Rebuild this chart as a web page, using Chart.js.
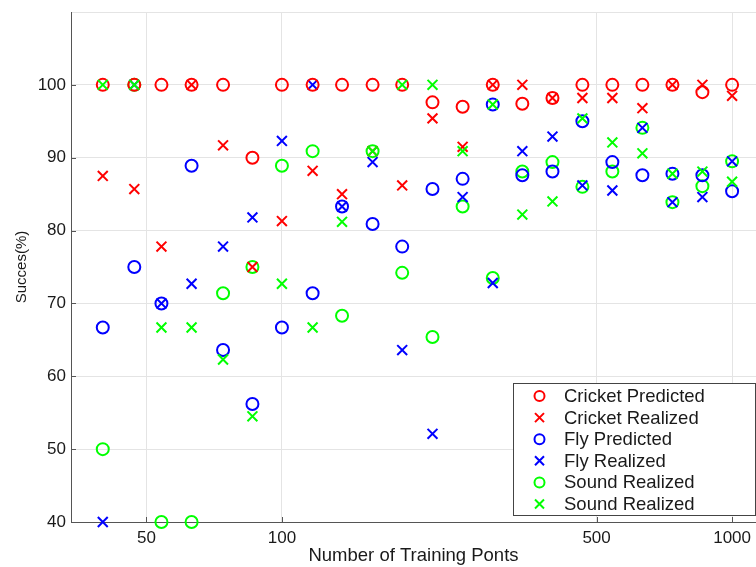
<!DOCTYPE html>
<html>
<head>
<meta charset="utf-8">
<script src="https://cdn.jsdelivr.net/npm/chart.js@4/dist/chart.umd.min.js"></script>
<style>
  html, body { margin: 0; padding: 0; background: #fff; }
  canvas { display: block; }
</style>
</head>
<body>
<canvas id="chart" width="756" height="567"></canvas>
<script>
// training set sizes (log spaced)
const trainingPoints = [40, 47, 54, 63, 74, 86, 100, 117, 136, 159, 185, 216, 252, 294, 342, 399, 465, 542, 632, 737, 859, 1000];

const cricketPredicted = [100, 100, 100, 100, 100, 90, 100, 100, 100, 100, 100, 97.6, 97.0, 100, 97.4, 98.2, 100, 100, 100, 100, 99.0, 100];
const cricketRealized  = [87.5, 85.7, 77.8, 100, 91.7, 75.0, 81.3, 88.2, 85.0, 90.9, 86.2, 95.4, 91.5, 100, 100, 98.2, 98.2, 98.2, 96.8, 100, 100, 98.5];
const flyPredicted     = [66.7, 75.0, 70.0, 88.9, 63.6, 56.2, 66.7, 71.4, 83.3, 80.9, 77.8, 85.7, 87.1, 97.3, 87.6, 88.1, 95.0, 89.4, 87.6, 87.8, 87.6, 85.4];
const flyRealized      = [40, 100, 70.0, 72.7, 77.8, 81.8, 92.3, 100, 83.3, 89.4, 63.6, 52.1, 84.6, 72.8, 90.9, 92.9, 86.2, 85.5, 94.1, 83.9, 84.6, 89.5];
const soundPredicted   = [50, 100, 40, 40, 71.4, 75.0, 88.9, 90.9, 68.3, 90.9, 74.2, 65.4, 83.3, 73.5, 88.1, 89.4, 86.0, 88.1, 94.1, 83.9, 86.1, 89.5];
const soundRealized    = [100, 100, 66.7, 66.7, 62.3, 54.5, 72.7, 66.7, 81.2, 90.9, 100, 100, 90.9, 97.3, 82.2, 84.0, 95.4, 92.1, 90.6, 87.8, 88.1, 86.7];

const xTicks = [50, 100, 500, 1000];
const yMin = 40, yMax = 110, yStep = 10;

const FONT = '"Liberation Sans", Arial, sans-serif';
const RED = '#ff0000', BLUE = '#0000ff', GREEN = '#00ff00';

function pts(values) {
    return trainingPoints.map((x, i) => ({ x: x, y: values[i] })).filter(p => p.y !== null);
}

function series(label, values, color, style, order) {
    const isCircle = style === 'circle';
    return {
        label: label,
        data: pts(values),
        pointStyle: style,
        pointRadius: isCircle ? 6 : 7,
        pointHoverRadius: isCircle ? 6 : 7,
        pointBorderWidth: 2,
        borderColor: color,
        backgroundColor: 'rgba(0,0,0,0)',
        pointBackgroundColor: 'rgba(0,0,0,0)',
        showLine: false,
        clip: false,
        order: order
    };
}

// inward tick marks, matlab style
const innerTicks = {
    id: 'innerTicks',
    beforeDatasetsDraw(chart) {
        const { ctx, chartArea, scales } = chart;
        ctx.save();
        ctx.strokeStyle = '#555';
        ctx.lineWidth = 1;
        ctx.beginPath();
        for (let v = yMin; v < yMax; v += yStep) {
            const y = Math.round(scales.y.getPixelForValue(v)) + 0.5;
            ctx.moveTo(chartArea.left, y);
            ctx.lineTo(chartArea.left + 5, y);
        }
        xTicks.forEach(v => {
            const x = Math.round(scales.x.getPixelForValue(v)) + 0.5;
            ctx.moveTo(x, chartArea.bottom);
            ctx.lineTo(x, chartArea.bottom - 5);
        });
        ctx.stroke();
        ctx.restore();
    }
};

// legend box inside the plot, bottom right
const boxLegend = {
    id: 'boxLegend',
    afterDraw(chart) {
        const ctx = chart.ctx;
        const left = 513.5, top = 383.5, right = 755.5, bottom = 515.5;
        ctx.save();
        ctx.fillStyle = '#fff';
        ctx.fillRect(left, top, right - left, bottom - top);
        ctx.strokeStyle = '#444';
        ctx.lineWidth = 1;
        ctx.strokeRect(left, top, right - left, bottom - top);

        ctx.font = '18.5px ' + FONT;
        ctx.textBaseline = 'middle';
        ctx.textAlign = 'left';
        chart.data.datasets.forEach((ds, i) => {
            const y = 396 + i * 21.6;
            const mx = 539.5;
            ctx.strokeStyle = ds.borderColor;
            ctx.lineWidth = 2;
            ctx.beginPath();
            if (ds.pointStyle === 'circle') {
                ctx.arc(mx, y, 5, 0, Math.PI * 2);
            } else {
                ctx.moveTo(mx - 4.5, y - 4.5);
                ctx.lineTo(mx + 4.5, y + 4.5);
                ctx.moveTo(mx + 4.5, y - 4.5);
                ctx.lineTo(mx - 4.5, y + 4.5);
            }
            ctx.stroke();
            ctx.fillStyle = '#1a1a1a';
            ctx.fillText(ds.label, 564, y + 1);
        });
        ctx.restore();
    }
};

new Chart(document.getElementById('chart').getContext('2d'), {
    type: 'scatter',
    data: {
        datasets: [
            series('Cricket Predicted', cricketPredicted, RED, 'circle', 1),
            series('Cricket Realized', cricketRealized, RED, 'crossRot', 2),
            series('Fly Predicted', flyPredicted, BLUE, 'circle', 3),
            series('Fly Realized', flyRealized, BLUE, 'crossRot', 4),
            series('Sound Realized', soundPredicted, GREEN, 'circle', 5),
            series('Sound Realized', soundRealized, GREEN, 'crossRot', 0)
        ]
    },
    options: {
        responsive: false,
        animation: false,
        layout: { autoPadding: false, padding: { top: 12, right: 0, left: 0, bottom: 0 } },
        plugins: {
            legend: { display: false },
            tooltip: { enabled: false }
        },
        scales: {
            x: {
                type: 'logarithmic',
                position: 'bottom',
                min: 34,
                max: 1130,
                afterBuildTicks: (scale) => {
                    scale.ticks = xTicks.map(v => ({ value: v }));
                },
                afterFit: (scale) => {
                    scale.height = 45;
                    scale.paddingLeft = 0;
                    scale.paddingRight = 0;
                },
                grid: { color: '#e4e4e4', drawTicks: false },
                border: { display: true, color: '#555' },
                ticks: {
                    autoSkip: false,
                    maxRotation: 0,
                    padding: 6,
                    color: '#1a1a1a',
                    font: { family: FONT, size: 17 },
                    callback: (v) => String(v)
                },
                title: {
                    display: true,
                    text: 'Number of Training Ponts',
                    color: '#1a1a1a',
                    font: { family: FONT, size: 18.5 },
                    padding: { top: 0, bottom: 0 }
                }
            },
            y: {
                min: yMin,
                max: yMax,
                afterFit: (scale) => {
                    scale.width = 71;
                    scale.paddingTop = 0;
                    scale.paddingBottom = 0;
                },
                grid: { color: '#e4e4e4', drawTicks: false },
                border: { display: true, color: '#555' },
                ticks: {
                    stepSize: yStep,
                    padding: 5,
                    color: '#1a1a1a',
                    font: { family: FONT, size: 17 },
                    callback: (v) => (v === yMax ? '' : v)
                },
                title: {
                    display: true,
                    text: 'Succes(%)',
                    color: '#1a1a1a',
                    font: { family: FONT, size: 15 },
                    padding: { top: 13, bottom: 0 }
                }
            }
        }
    },
    plugins: [innerTicks, boxLegend]
});
</script>
</body>
</html>
